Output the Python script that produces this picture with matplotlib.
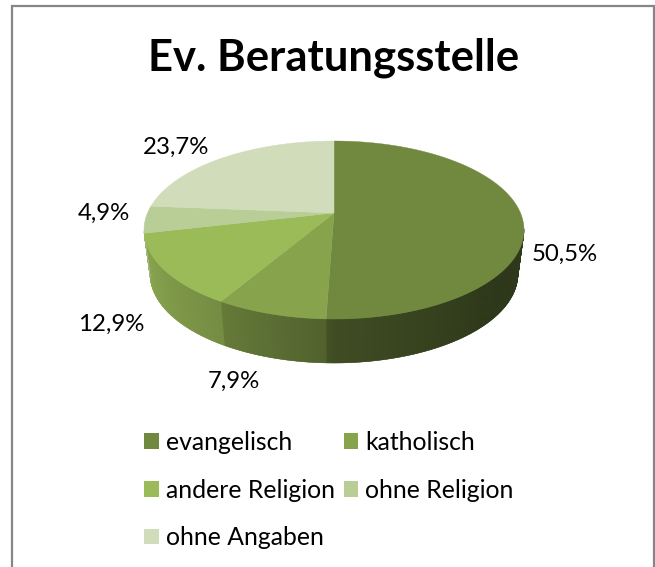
import numpy as np
import matplotlib
matplotlib.use('Agg')
import matplotlib.pyplot as plt
from matplotlib.colors import to_rgb
from matplotlib.lines import Line2D
from matplotlib.patches import Patch

plt.rcParams['font.family'] = ['Lato', 'DejaVu Sans']

title = 'Ev. Beratungsstelle'
categories = ['evangelisch', 'katholisch', 'andere Religion', 'ohne Religion', 'ohne Angaben']
values = [50.5, 7.9, 12.9, 4.9, 23.7]
pct_labels = ['50,5%', '7,9%', '12,9%', '4,9%', '23,7%']
colors = ['#71893F', '#87A34C', '#9BBB59', '#B9CD96', '#D1DCBB']

W, H = 655, 567
# apex of the slices in pixels and the tilt of the disc
cx, cy = 334, 213
a, b, k = 186.5, 85.75, 0.191
depth, taper = 44, 0.968
label_pos = [(565, 254), (234, 381), (111, 324), (104, 213), (176.5, 147)]

fig = plt.figure(figsize=(W / 100, H / 100), dpi=100, facecolor='white')
ax = fig.add_axes([0, 0, 1, 1])
ax.set_xlim(0, W)
ax.set_ylim(H, 0)
ax.axis('off')


def rim(theta):
    # clockwise angle from 12 o'clock to a point on the tilted rim
    t = np.radians(theta)
    d = 1 + k * np.cos(t)
    return a * np.sin(t) / d, b * np.cos(t) / d


# chart frame, runs off the bottom of the picture
ax.add_line(Line2D([12, 12, 654, 654], [H, 6, 6, H], color='#868686', linewidth=1.6,
                   solid_joinstyle='miter'))

edges = np.cumsum([0] + values) / sum(values) * 360

# side wall, thin strips so the shading runs across each slice
for i in range(len(values)):
    start, end = max(edges[i], 100), min(edges[i + 1], 258)
    if end <= start:
        continue
    base = np.array(to_rgb(colors[i]))
    ts = np.linspace(start, end, int(end - start) * 2 + 2)
    for t0, t1 in zip(ts[:-1], ts[1:]):
        tt = np.linspace(t0, t1 + 0.3, 4)
        X, Y = rim(tt)
        f = np.interp((t0 + t1) / 2, [90, 130, 180, 182, 210, 257], [.42, .40, .56, .60, .75, .90])
        ax.fill(np.r_[cx + X, cx + X[::-1] * taper], np.r_[cy - Y, cy - Y[::-1] + depth],
                color=base * f, linewidth=0.3, zorder=1)

# top face
for i in range(len(values)):
    tt = np.linspace(edges[i], edges[i + 1], 200)
    X, Y = rim(tt)
    ax.fill(np.r_[cx, cx + X], np.r_[cy, cy - Y], color=colors[i], linewidth=0.3, zorder=2)

for txt, (x, y) in zip(pct_labels, label_pos):
    ax.text(x, y, txt, fontsize=17.3, color='black', ha='center', va='center')

ax.text(334, 58, title, fontsize=31.4, fontweight='bold', color='black', ha='center', va='center')

order = [0, 2, 4, 1, 3]
handles = [Patch(color=colors[i], linewidth=0) for i in order]
fig.legend(handles, [categories[i] for i in order], ncol=2,
           loc='upper left', bbox_to_anchor=(134 / W, 1 - 421 / H), frameon=False, fontsize=17.8,
           handlelength=0.6, handleheight=0.6, handletextpad=0.28, columnspacing=0.36,
           labelspacing=1.0, borderpad=0.4, borderaxespad=0)

fig.savefig('out.png', dpi=100)
